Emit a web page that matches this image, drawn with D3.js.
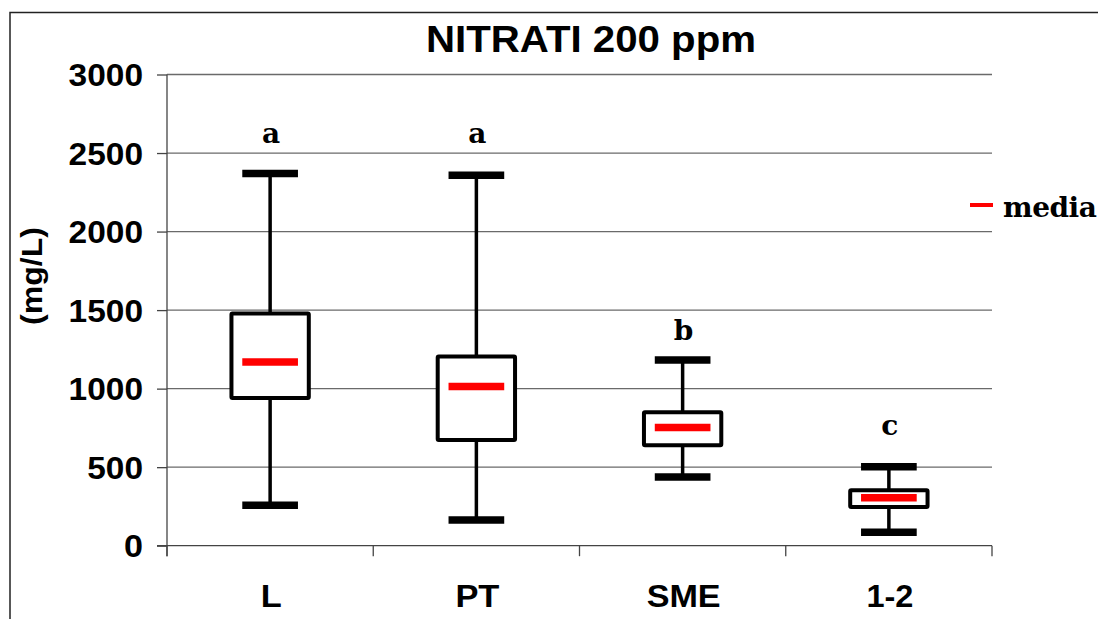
<!DOCTYPE html>
<html>
<head>
<meta charset="utf-8">
<script src="https://cdn.jsdelivr.net/npm/d3@7"></script>
<style>
  html, body { margin: 0; padding: 0; background: #fff; }
  svg { display: block; }
</style>
</head>
<body>
<svg id="chart" width="1098" height="619"></svg>
<script>
// Nitrate concentration (mg/L) per sampling method
const categories = ["L", "PT", "SME", "1-2"];
const whiskerMax = [2370, 2358, 1182, 503];
const q3 = [1478, 1204, 850, 353];
const media = [1170, 1013, 752, 306];
const q1 = [940, 673, 640, 247];
const whiskerMin = [258, 164, 438, 86];
const groupLetters = ["a", "a", "b", "c"];
const letterAt = [2565, 2565, 1310, 705];
const yTicks = [0, 500, 1000, 1500, 2000, 2500, 3000];

(function () {
const svg = d3.select("#chart");
const plotLeft = 167, plotRight = 992, plotTop = 74.5, plotBottom = 545.7;
const sansBold = "Arial, 'Liberation Sans', sans-serif";

const x = d3.scaleBand().domain(categories).range([plotLeft, plotRight]).padding(0);
const y = d3.scaleLinear().domain([0, 3000]).range([plotBottom, plotTop]);

const rows = categories.map((c, i) => ({
  c, hi: whiskerMax[i], q3: q3[i], med: media[i], q1: q1[i], lo: whiskerMin[i],
  letter: groupLetters[i], la: letterAt[i]
}));

// outer frame
svg.append("rect")
  .attr("x", 10).attr("y", 12.5).attr("width", 1200).attr("height", 700)
  .attr("fill", "none").attr("stroke", "#222").attr("stroke-width", 1.5);

// horizontal gridlines
svg.append("g").selectAll("line").data(yTicks.filter(t => t > 0)).join("line")
  .attr("x1", plotLeft).attr("x2", plotRight)
  .attr("y1", d => y(d)).attr("y2", d => y(d))
  .attr("stroke", "#6a6a6a").attr("stroke-width", 1.3);

// y axis
const yAxis = svg.append("g").attr("transform", `translate(${plotLeft},0)`)
  .call(d3.axisLeft(y).tickValues(yTicks).tickFormat(d3.format("d")).tickSize(10).tickPadding(24));
yAxis.select(".domain").remove();
yAxis.selectAll(".tick line").attr("stroke", "#444").attr("stroke-width", 1.3);
yAxis.selectAll(".tick text")
  .attr("fill", "#000")
  .attr("x", -24)
  .style("font-family", sansBold)
  .style("font-weight", "bold").style("font-size", "31px")
  .attr("textLength", d => String(d).length === 1 ? 19 : String(d).length * 18.6)
  .attr("lengthAdjust", "spacingAndGlyphs")
  .attr("dy", "0.36em");
svg.append("line")
  .attr("x1", plotLeft).attr("x2", plotLeft).attr("y1", plotTop).attr("y2", plotBottom + 10.5)
  .attr("stroke", "#444").attr("stroke-width", 1.3);

// x axis
svg.append("line")
  .attr("x1", plotLeft - 10).attr("x2", plotRight).attr("y1", plotBottom).attr("y2", plotBottom)
  .attr("stroke", "#444").attr("stroke-width", 1.3);
const edges = categories.map(c => x(c)).concat([plotRight]);
svg.append("g").selectAll("line").data(edges).join("line")
  .attr("x1", d => d).attr("x2", d => d)
  .attr("y1", plotBottom).attr("y2", plotBottom + 10.5)
  .attr("stroke", "#444").attr("stroke-width", 1.3);
const xLabelLen = { "L": 21, "PT": 44, "SME": 74, "1-2": 47 };
svg.append("g").selectAll("text").data(categories).join("text")
  .attr("x", d => x(d) + x.bandwidth() / 2 + 1)
  .attr("y", 607)
  .attr("text-anchor", "middle")
  .style("font-family", sansBold)
  .style("font-weight", "bold").style("font-size", "31px")
  .attr("textLength", d => xLabelLen[d])
  .attr("lengthAdjust", "spacingAndGlyphs")
  .text(d => d);

// boxes
const bw = x.bandwidth();
const boxW = bw * 0.375, capW = bw * 0.27;
const g = svg.append("g").selectAll("g").data(rows).join("g")
  .attr("transform", d => `translate(${x(d.c) + bw / 2},0)`);

g.append("line")
  .attr("x1", 0).attr("x2", 0)
  .attr("y1", d => y(d.hi)).attr("y2", d => y(d.q3))
  .attr("stroke", "#000").attr("stroke-width", 3.5);
g.append("line")
  .attr("x1", 0).attr("x2", 0)
  .attr("y1", d => y(d.q1)).attr("y2", d => y(d.lo))
  .attr("stroke", "#000").attr("stroke-width", 3.5);
g.append("line")
  .attr("x1", -capW / 2).attr("x2", capW / 2)
  .attr("y1", d => y(d.hi)).attr("y2", d => y(d.hi))
  .attr("stroke", "#000").attr("stroke-width", 7.5);
g.append("line")
  .attr("x1", -capW / 2).attr("x2", capW / 2)
  .attr("y1", d => y(d.lo)).attr("y2", d => y(d.lo))
  .attr("stroke", "#000").attr("stroke-width", 7.5);
g.append("rect")
  .attr("x", -boxW / 2).attr("width", boxW)
  .attr("y", d => y(d.q3)).attr("height", d => y(d.q1) - y(d.q3))
  .attr("fill", "#fff").attr("stroke", "#000").attr("stroke-width", 4)
  .attr("rx", 1);
g.append("line")
  .attr("x1", -capW / 2).attr("x2", capW / 2)
  .attr("y1", d => y(d.med)).attr("y2", d => y(d.med))
  .attr("stroke", "#ff0000").attr("stroke-width", 7.5);

// significance letters
g.append("text")
  .attr("x", 1).attr("y", d => y(d.la))
  .attr("text-anchor", "middle")
  .style("font-family", "'DejaVu Serif', serif")
  .style("font-weight", "bold").style("font-size", "28px")
  .text(d => d.letter);

// title
svg.append("text")
  .attr("x", 591).attr("y", 52)
  .attr("text-anchor", "middle")
  .style("font-family", sansBold)
  .style("font-weight", "bold").style("font-size", "37px")
  .attr("textLength", 330)
  .attr("lengthAdjust", "spacingAndGlyphs")
  .text("NITRATI 200 ppm");

// y axis title
svg.append("text")
  .attr("transform", "translate(42,276) rotate(-90)")
  .attr("text-anchor", "middle")
  .style("font-family", sansBold)
  .style("font-weight", "bold").style("font-size", "29px")
  .attr("textLength", 98)
  .attr("lengthAdjust", "spacingAndGlyphs")
  .text("(mg/L)");

// legend
svg.append("line")
  .attr("x1", 970).attr("x2", 993).attr("y1", 205).attr("y2", 205)
  .attr("stroke", "#ff0000").attr("stroke-width", 4);
svg.append("text")
  .attr("x", 1003).attr("y", 217)
  .style("font-family", "'DejaVu Serif', serif")
  .style("font-weight", "bold").style("font-size", "28px")
  .style("letter-spacing", "-0.5px")
  .text("media");
})();
</script>
</body>
</html>
